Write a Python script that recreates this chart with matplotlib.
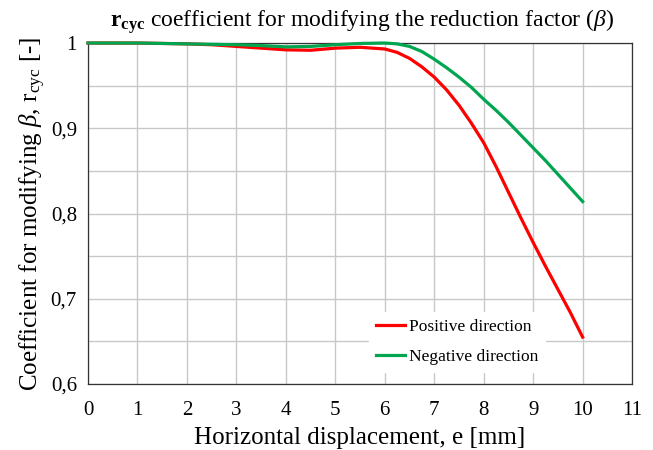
import matplotlib
matplotlib.use("Agg")
import matplotlib.pyplot as plt
from matplotlib.ticker import FuncFormatter, MultipleLocator

plt.rcParams['font.family'] = ['Liberation Serif', 'DejaVu Serif']
plt.rcParams['mathtext.fontset'] = 'custom'
plt.rcParams['mathtext.rm'] = 'Liberation Serif'
plt.rcParams['mathtext.it'] = 'Liberation Serif:italic'
plt.rcParams['mathtext.bf'] = 'Liberation Serif:bold'

# data
disp = [0, 0.5, 1, 1.5, 2, 2.5, 3, 3.5, 4, 4.5, 5, 5.5, 6, 6.25, 6.5, 6.75,
        7, 7.25, 7.5, 7.75, 8, 8.25, 8.5, 8.75, 9, 9.25, 9.5, 9.75, 10]
positive = [1.0, 1.0, 1.0, 0.9995, 0.999, 0.998, 0.996, 0.994, 0.992, 0.9915,
            0.994, 0.995, 0.993, 0.989, 0.982, 0.972, 0.960, 0.945, 0.927,
            0.906, 0.883, 0.855, 0.825, 0.795, 0.766, 0.738, 0.711, 0.684,
            0.655]
negative = [1.0, 1.0, 1.0, 0.9995, 0.999, 0.9985, 0.998, 0.997, 0.9955, 0.996,
            0.998, 0.9995, 1.0, 0.999, 0.996, 0.990, 0.981, 0.971, 0.960,
            0.948, 0.934, 0.921, 0.907, 0.892, 0.877, 0.862, 0.846, 0.830,
            0.814]
series_labels = ['Positive direction', 'Negative direction']
series_colors = ['#ff0000', '#00a550']

fig = plt.figure(figsize=(6.53, 4.5), dpi=100)
ax = fig.add_axes([0.1348, 0.1467, 0.8332, 0.7577])

for ys, lab, c in zip([positive, negative], series_labels, series_colors):
    ax.plot(disp, ys, color=c, lw=2.3, label=lab, clip_on=False, zorder=5,
            solid_joinstyle='round')

ax.set_xlim(0, 11)
ax.set_ylim(0.6, 1.0)
ax.xaxis.set_major_locator(MultipleLocator(1))
ax.yaxis.set_major_locator(MultipleLocator(0.1))
ax.yaxis.set_minor_locator(MultipleLocator(0.05))
ax.yaxis.set_major_formatter(FuncFormatter(
    lambda v, p: '1' if abs(v - 1) < 1e-9 else ('%.1f' % v).replace('.', ',')))
ax.grid(True, which='both', color='#c8c8c8', lw=1)
ax.set_axisbelow(True)
ax.tick_params(which='both', length=0, labelsize=15)
ax.tick_params(axis='x', pad=12)
ax.tick_params(axis='y', pad=8)
for s in ax.spines.values():
    s.set_linewidth(0.9)
    s.set_color('#333333')

ax.set_xlabel('Horizontal displacement, e [mm]', fontsize=18, labelpad=5)
ax.set_ylabel(r'Coefficient for modifying $\mathit{\beta}$, r$_{\mathrm{cyc}}$ [-]',
              fontsize=18, labelpad=2)
fig.text(0.555, 0.953,
         r'$\mathbf{r_{cyc}}$ coefficient for modifying the reduction factor ($\mathit{\beta}$)',
         ha='center', va='center', fontsize=17)

leg = ax.legend(loc='center left', bbox_to_anchor=(0.565, 0.18, 0.3, 0.12),
                bbox_transform=fig.transFigure, frameon=True, fontsize=12.5,
                handlelength=1.7, handletextpad=0.2, labelspacing=0.75,
                borderaxespad=0, fancybox=False)
leg.get_frame().set_edgecolor('white')
leg.get_frame().set_facecolor('white')
leg.get_frame().set_alpha(1)
leg.set_zorder(6)

fig.savefig('out.png', dpi=100)
